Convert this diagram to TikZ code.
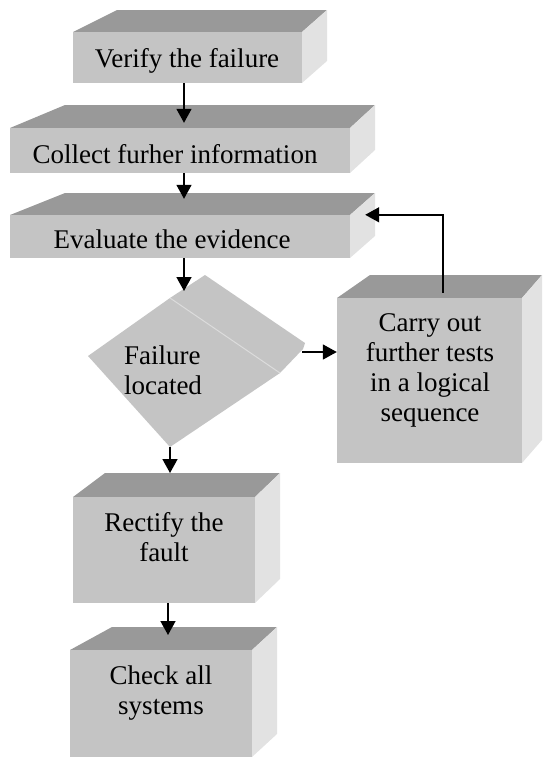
\documentclass[tikz,border=0pt]{standalone}
\usepackage{fontspec}
\setmainfont{Liberation Serif}
\usetikzlibrary{arrows.meta,calc,fit}
\definecolor{frontc}{RGB}{196,196,196}
\definecolor{topc}{RGB}{153,153,153}
\definecolor{sidec}{RGB}{226,226,226}
\definecolor{edgec}{RGB}{220,220,220}
% #1 name, #2 x1, #3 y1, #4 x2, #5 y2 (front face), #6 back-left x, #7 back-right x, #8 back y
\newcommand{\cubebox}[8]{%
  \fill[topc] (#2,#3) -- (#6,#8) -- (#7,#8) -- (#4,#3) -- cycle;
  \fill[sidec] (#4,#3) -- (#7,#8) -- (#7,{#5-#3+#8}) -- (#4,#5) -- cycle;
  \node[frontface, fit={(#2,#3) (#4,#5)}] (#1) {};
  \coordinate (#1-back) at (#6,#8);
}
\begin{document}
\begin{tikzpicture}[x=1pt,y=-1pt,
  frontface/.style={fill=frontc, inner sep=0pt, draw=none},
  txt/.style={font=\fontsize{27}{30}\selectfont, align=center, inner sep=0pt, text=black},
  arr/.style={-{Triangle[width=15pt,length=14pt]}, line width=1.6pt, black}]
\useasboundingbox (0,0) rectangle (542,758);

% boxes
\cubebox{b1}{73}{32}{302}{83}{117}{327}{10}
\cubebox{b2}{10}{128}{350}{173}{65}{375}{105}
\cubebox{b3}{10}{215}{350}{258}{65}{375}{193}
\cubebox{b4}{337}{298}{522}{463}{370}{542}{275}
\cubebox{b5}{73}{497}{255}{603}{105}{280}{473}
\cubebox{b6}{70}{650}{252}{757}{112}{277}{627}

% decision (3D diamond)
\coordinate (dtop) at (170,298);
\coordinate (dback) at (205,275);
\coordinate (dbr) at (305,343);
\coordinate (dright) at (302,352);
\coordinate (dfr) at (280,373);
\coordinate (dbot) at (170,447);
\coordinate (dleft) at (88,356);
\fill[frontc] (dtop) -- (dback) -- (dbr) -- (303,349) -- (dfr) -- (dbot) -- (dleft) -- cycle;
\draw[edgec, line width=1pt] (dtop) -- (dfr);

% texts
\node[txt] (t1) at (187,61) {Verify the failure};
\node[txt] (t2) at (175,154) {Collect furher information};
\node[txt] (t3) at (172,239) {Evaluate the evidence};
\node[txt, align=left] (td) at (163,370) {Failure\\located};
\node[txt] (t4) at (430,370) {Carry out\\further tests\\in a logical\\sequence};
\node[txt] (t5) at (164,537) {Rectify the\\fault};
\node[txt] (t6) at (161,693) {Check all\\systems};

% connectors
\coordinate (tip3) at (184,291);
\coordinate (tip5) at (168,635);
\draw[arr] ([xshift=-3.5pt]b1.south) -- ([xshift=4pt,yshift=5pt]b2.north);
\draw[arr] ([xshift=4pt]b2.south) -- ([xshift=4pt,yshift=16pt]b3.north);
\draw[arr] ([xshift=4pt]b3.south) -- (tip3);
\draw[arr] (dbot) -- (dbot |- b5-back);
\draw[arr] (tip5 |- b5.south) -- (tip5);
\draw[arr] (dright) -- (b4.west |- dright);
\draw[arr] ([xshift=13.5pt,yshift=5pt]b4.north) |- ([xshift=15pt]b3.north east);
\end{tikzpicture}
\end{document}
